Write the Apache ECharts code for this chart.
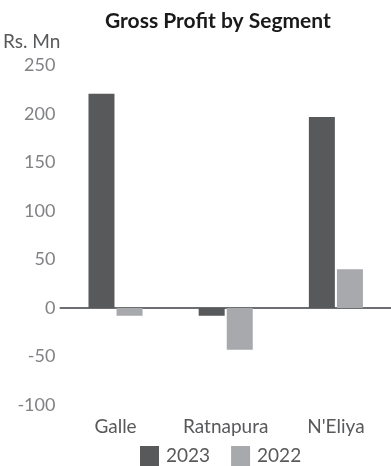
<!DOCTYPE html>
<html>
<head>
<meta charset="utf-8">
<style>
  html, body { margin: 0; padding: 0; background: #fff; }
  #chart { width: 391px; height: 466px; }
</style>
<script src="https://cdn.jsdelivr.net/npm/echarts@6/dist/echarts.min.js"></script>
</head>
<body>
<div id="chart"></div>
<script>
// Gross profit per segment, Rs. Mn
const segments = ['Galle', 'Ratnapura', "N'Eliya"];
const profit2023 = [221, -8, 197];
const profit2022 = [-8, -43, 40];
const seriesNames = ['2023', '2022'];

const chart = echarts.init(document.getElementById('chart'));
const FONT = 'Lato, "Open Sans", sans-serif';

chart.setOption({
  animation: false,
  title: {
    text: 'Gross Profit by Segment',
    left: 105,
    top: 11,
    padding: 0,
    textStyle: { fontFamily: FONT, fontSize: 21, fontWeight: 'bold', color: '#1a1a1a' }
  },
  legend: {
    data: seriesNames,
    left: 140,
    top: 446,
    padding: 0,
    itemWidth: 19,
    itemHeight: 20,
    itemGap: 21,
    icon: 'rect',
    textStyle: { fontFamily: FONT, fontSize: 19, color: '#58595b', padding: [0, 0, 0, 2] }
  },
  grid: { left: 58, right: 0, top: 65.5, bottom: 61, containLabel: false },
  xAxis: [
    {
      type: 'category',
      data: segments,
      axisLine: { show: false, onZero: false },
      axisTick: { show: false },
      axisLabel: { interval: 0, hideOverlap: false, fontFamily: FONT, fontSize: 19, color: '#58595b', margin: 12 }
    },
    {
      // baseline drawn at zero
      type: 'category',
      data: segments,
      position: 'bottom',
      axisLine: { show: true, onZero: true, lineStyle: { color: '#6d6e71', width: 2 } },
      axisTick: { show: false },
      axisLabel: { show: false }
    }
  ],
  yAxis: {
    type: 'value',
    min: -100,
    max: 250,
    interval: 50,
    name: 'Rs. Mn',
    nameLocation: 'end',
    nameGap: 24,
    nameTextStyle: { fontFamily: FONT, fontSize: 19, color: '#58595b', align: 'right', verticalAlign: 'middle' },
    axisLine: { show: false },
    axisTick: { show: false },
    splitLine: { show: false },
    axisLabel: { fontFamily: FONT, fontSize: 18, color: '#808285', margin: 5 }
  },
  series: [
    {
      name: seriesNames[0],
      type: 'bar',
      data: profit2023,
      barWidth: 26,
      barGap: '8%',
      itemStyle: { color: '#58595b' }
    },
    {
      name: seriesNames[1],
      type: 'bar',
      data: profit2022,
      barWidth: 26,
      itemStyle: { color: '#a7a9ac' }
    }
  ]
});
</script>
</body>
</html>
